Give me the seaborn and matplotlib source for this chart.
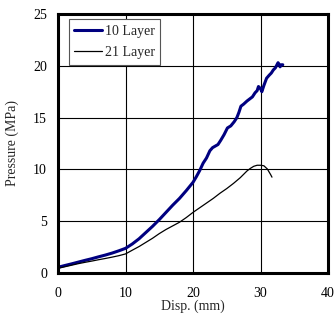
import matplotlib
matplotlib.use("Agg")
import matplotlib.pyplot as plt
import seaborn as sns
import pandas as pd

# Pressure vs. displacement for the two layer configurations
disp_10 = [0, 1, 2, 3, 4, 5, 6, 7, 8, 9, 10, 11, 12, 13, 14, 15, 16, 17, 18, 19,
           20, 20.5, 21, 21.5, 22, 22.5, 22.9, 23.3, 23.7, 24.1, 24.6, 25.1, 25.6,
           26.1, 26.5, 26.8, 27.1, 27.5, 28.0, 28.4, 28.8, 29.2, 29.5, 29.7, 30.0,
           30.2, 30.5, 30.9, 31.3, 31.6, 31.9, 32.2, 32.6, 32.8, 32.9, 33.1, 33.3]
pres_10 = [0.55, 0.72, 0.88, 1.05, 1.22, 1.38, 1.56, 1.73, 1.92, 2.14, 2.38, 2.8,
           3.3, 3.9, 4.5, 5.15, 5.85, 6.55, 7.2, 7.95, 8.75, 9.3, 9.9, 10.6, 11.1,
           11.8, 12.1, 12.25, 12.4, 12.8, 13.35, 14.0, 14.2, 14.6, 15.0, 15.5, 16.1,
           16.3, 16.6, 16.8, 17.0, 17.4, 17.6, 18.0, 17.8, 17.5, 18.1, 18.8, 19.1,
           19.3, 19.6, 19.8, 20.3, 20.1, 19.9, 20.1, 20.1]

disp_21 = [0, 1, 2, 3, 4, 5, 6, 7, 8, 9, 10, 11, 12, 13, 14, 15, 16, 17, 18, 19,
           20, 21, 22, 23, 24, 25, 26, 27, 28, 28.5, 29, 29.5, 30, 30.5, 31, 31.5,
           31.7]
pres_21 = [0.45, 0.6, 0.75, 0.9, 1.03, 1.15, 1.28, 1.4, 1.53, 1.67, 1.84, 2.2,
           2.55, 2.95, 3.35, 3.8, 4.2, 4.55, 4.9, 5.35, 5.85, 6.3, 6.75, 7.2, 7.7,
           8.15, 8.65, 9.2, 9.85, 10.1, 10.3, 10.4, 10.4, 10.35, 10.05, 9.5, 9.25]

series_labels = ["10 Layer", "21 Layer"]
x_ticks = [0, 10, 20, 30, 40]
y_ticks = [0, 5, 10, 15, 20, 25]

sns.set_style("white")
plt.rcParams["font.family"] = ["Liberation Serif", "DejaVu Serif"]
plt.rcParams["font.size"] = 10

df10 = pd.DataFrame({"disp": disp_10, "pres": pres_10})
df21 = pd.DataFrame({"disp": disp_21, "pres": pres_21})

fig = plt.figure(figsize=(3.36, 3.2), dpi=100)
ax = fig.add_axes([58 / 336, 47 / 320, 270 / 336, 259 / 320])

sns.lineplot(data=df10, x="disp", y="pres", ax=ax, color="#000080",
             linewidth=2.2, sort=False, estimator=None, label=series_labels[0])
sns.lineplot(data=df21, x="disp", y="pres", ax=ax, color="black",
             linewidth=0.9, sort=False, estimator=None, label=series_labels[1])

ax.set_xlim(0, 40)
ax.set_ylim(0, 25)
ax.set_xticks(x_ticks)
ax.set_yticks(y_ticks)
ax.grid(True, color="black", linewidth=0.8)
ax.set_axisbelow(True)
ax.tick_params(axis="both", length=0, labelsize=10, colors="black")
ax.tick_params(axis="x", pad=10)
ax.tick_params(axis="y", pad=8)

for side in ["left", "right", "top", "bottom"]:
    ax.spines[side].set_visible(True)
    ax.spines[side].set_color("black")
    ax.spines[side].set_linewidth(2.2)

ax.set_xlabel("Disp. (mm)", fontsize=10, labelpad=0)
ax.set_ylabel("Pressure (MPa)", fontsize=10, labelpad=10)

leg = ax.legend(loc="upper left", bbox_to_anchor=(0.04, 0.98), borderaxespad=0,
                fancybox=False, framealpha=1, edgecolor="#555555",
                handlelength=2.0, handletextpad=0.2, labelspacing=0.6,
                borderpad=0.4, fontsize=10)
leg.get_frame().set_linewidth(0.8)

fig.savefig("out.png", dpi=100)
